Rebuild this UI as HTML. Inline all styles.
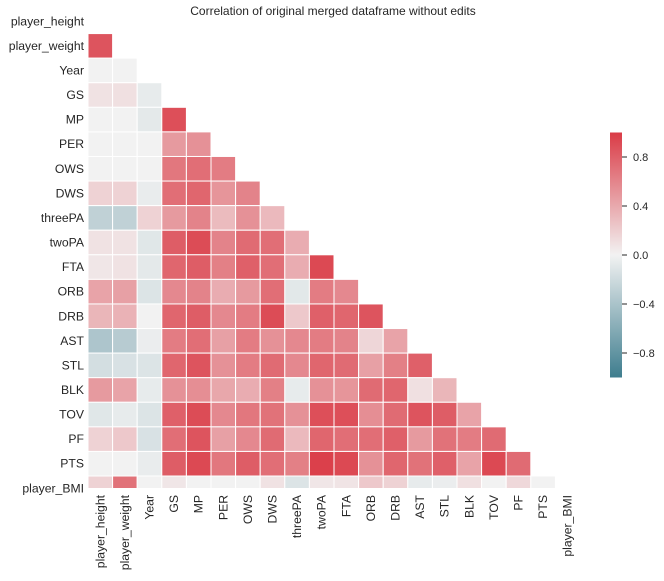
<!DOCTYPE html>
<html><head><meta charset="utf-8"><style>
body{margin:0;background:#fff;}
svg text{font-family:"Liberation Sans",sans-serif;fill:#262626;}
</style></head><body>
<svg id="chart" width="664" height="576">
<defs>
<clipPath id="pc"><rect x="88" y="9" width="492" height="479"/></clipPath>
<linearGradient id="cbg" x1="0" y1="1" x2="0" y2="0">
<stop offset="0" stop-color="rgb(62,125,142)"/>
<stop offset="0.5" stop-color="rgb(242,242,242)"/>
<stop offset="1" stop-color="rgb(218,59,70)"/>
</linearGradient>
</defs>
<text x="333" y="15" font-size="12" text-anchor="middle">Correlation of original merged dataframe without edits</text>
<g id="cells" clip-path="url(#pc)"></g>
<g id="ylabels"></g>
<g id="xlabels"></g>
<rect x="610" y="132.5" width="12" height="245" fill="url(#cbg)"/>
<g id="cbticks"></g>
</svg>
<script>
const labels=["player_height","player_weight","Year","GS","MP","PER","OWS","DWS","threePA","twoPA","FTA","ORB","DRB","AST","STL","BLK","TOV","PF","PTS","player_BMI"];
const row1=[0.85];
const row2=[0.0,0.0];
const row3=[0.07,0.08,-0.05];
const row4=[0.0,0.0,-0.06,0.88];
const row5=[0.0,0.0,0.0,0.45,0.5];
const row6=[0.0,0.0,0.0,0.65,0.7,0.62];
const row7=[0.15,0.15,-0.04,0.7,0.75,0.48,0.58];
const row8=[-0.25,-0.25,0.15,0.45,0.58,0.27,0.5,0.28];
const row9=[0.07,0.07,-0.08,0.8,0.9,0.58,0.72,0.7,0.35];
const row10=[0.05,0.07,-0.06,0.75,0.8,0.6,0.78,0.7,0.35,0.92];
const row11=[0.4,0.42,-0.1,0.55,0.58,0.35,0.45,0.7,-0.07,0.62,0.55];
const row12=[0.3,0.32,0.0,0.75,0.8,0.55,0.62,0.9,0.2,0.78,0.75,0.85];
const row13=[-0.35,-0.3,-0.03,0.62,0.7,0.42,0.62,0.5,0.55,0.62,0.58,0.13,0.4];
const row14=[-0.15,-0.12,-0.1,0.75,0.85,0.5,0.62,0.72,0.55,0.75,0.72,0.42,0.6,0.78];
const row15=[0.45,0.4,-0.05,0.5,0.52,0.38,0.35,0.6,-0.05,0.5,0.48,0.72,0.75,0.08,0.3];
const row16=[-0.08,-0.05,-0.1,0.78,0.9,0.55,0.65,0.68,0.5,0.88,0.88,0.52,0.72,0.85,0.8,0.4];
const row17=[0.15,0.2,-0.12,0.7,0.85,0.42,0.55,0.72,0.28,0.75,0.7,0.7,0.78,0.45,0.68,0.62,0.72];
const row18=[0.0,0.0,-0.04,0.8,0.92,0.65,0.8,0.7,0.6,0.97,0.92,0.5,0.75,0.68,0.78,0.4,0.92,0.72];
const row19=[0.15,0.68,0.0,0.05,0.0,0.0,0.0,0.07,-0.1,0.05,0.06,0.2,0.15,-0.05,-0.03,0.08,0.0,0.12,0.0];
const rows=[[],row1,row2,row3,row4,row5,row6,row7,row8,row9,row10,row11,row12,row13,row14,row15,row16,row17,row18,row19];
const cbTicks=[0.8,0.4,0.0,-0.4,-0.8];

const NS="http://www.w3.org/2000/svg";
const X0=88,Y0=9,CW=24.6,CH=24.58;
const xPos=j=>X0+j*CW, yPos=i=>Y0+i*CH;
const cbY=v=>255-v*122.5;
function color(v){
  v=Math.max(-1,Math.min(1,v));
  const mid=[242,242,242],hi=[218,59,70],lo=[62,125,142];
  const t=Math.pow(Math.abs(v),0.92), e=v>=0?hi:lo;
  return `rgb(${mid.map((m,k)=>Math.round(m+(e[k]-m)*t)).join(',')})`;
}
const cells=document.getElementById('cells');
rows.forEach((r,i)=>r.forEach((v,j)=>{
  const c=document.createElementNS(NS,'rect');
  c.setAttribute('x',xPos(j));c.setAttribute('y',yPos(i));
  c.setAttribute('width',CW);c.setAttribute('height',CH);
  c.setAttribute('fill',color(v));c.setAttribute('stroke','#fff');c.setAttribute('stroke-width','1');
  
  
  cells.appendChild(c);
}));
const yl=document.getElementById('ylabels'),xl=document.getElementById('xlabels');
labels.forEach((l,i)=>{
  const t=document.createElementNS(NS,'text');
  t.setAttribute('x',84);t.setAttribute('y',yPos(i)+CH/2+4);
  t.setAttribute('text-anchor','end');t.setAttribute('font-size','12.2');
  t.textContent=l;
  
  
  yl.appendChild(t);
  const u=document.createElementNS(NS,'text');
  const cx=xPos(i)+CW/2+4;
  u.setAttribute('transform',`translate(${cx},495) rotate(-90)`);
  u.setAttribute('text-anchor','end');u.setAttribute('font-size','12.2');
  u.textContent=l;
  
  
  xl.appendChild(u);
});
const cb=document.getElementById('cbticks');
cbTicks.forEach(v=>{
  const y=cbY(v);
  const ln=document.createElementNS(NS,'line');
  ln.setAttribute('x1',622);ln.setAttribute('x2',627);ln.setAttribute('y1',y);ln.setAttribute('y2',y);
  ln.setAttribute('stroke','#262626');
  
  
  cb.appendChild(ln);
  const t=document.createElementNS(NS,'text');
  t.setAttribute('x',633);t.setAttribute('y',y+4);t.setAttribute('font-size','11');
  t.textContent=(v<0?'\u2212':'')+Math.abs(v).toFixed(1);
  
  
  cb.appendChild(t);
});
</script>
</body></html>
